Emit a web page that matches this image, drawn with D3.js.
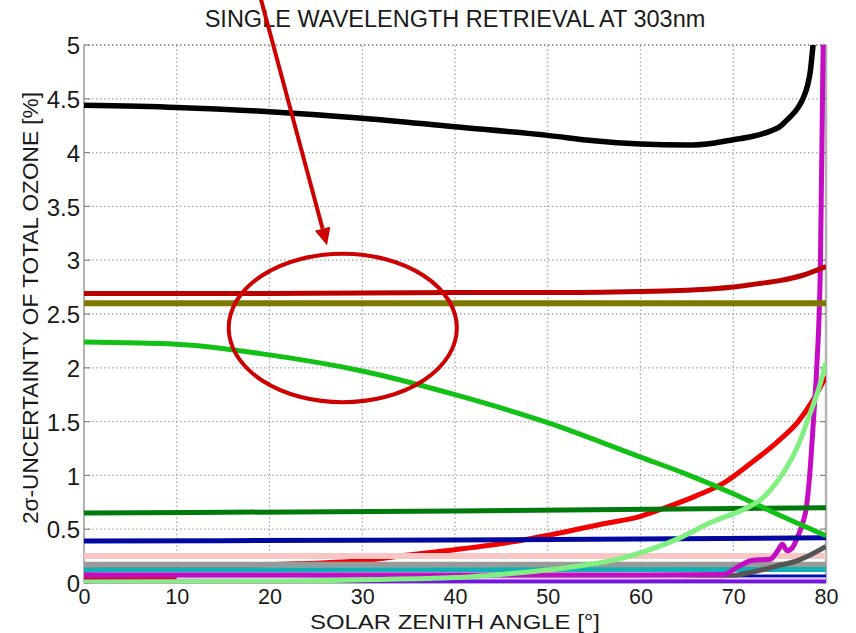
<!DOCTYPE html>
<html>
<head>
<meta charset="utf-8">
<script src="https://cdn.jsdelivr.net/npm/d3@7"></script>
<style>
  html, body { margin: 0; padding: 0; background: #fff; }
  svg { display: block; }
  text { font-family: "Liberation Sans", Arial, sans-serif; fill: #1a1a1a; }
</style>
</head>
<body>
<svg id="chart" width="856" height="633"></svg>
<script>
// Axis ticks
const xTicks = [0, 10, 20, 30, 40, 50, 60, 70, 80];
const yTicks = [0, 0.5, 1, 1.5, 2, 2.5, 3, 3.5, 4, 4.5, 5];

// Uncertainty curves: solar zenith angle [deg] and 2-sigma uncertainty [%]
const blackSza = [0, 10, 20, 30, 40, 50, 55, 60, 65, 68, 70, 72, 74, 75, 76, 77, 77.5, 78, 78.3, 78.6, 78.8];
const blackVal = [4.44, 4.42, 4.38, 4.32, 4.24, 4.16, 4.11, 4.08, 4.07, 4.09, 4.12, 4.15, 4.2, 4.24, 4.32, 4.42, 4.5, 4.62, 4.75, 5.0, 5.2];

const darkRedSza = [0, 20, 40, 50, 60, 65, 70, 72.5, 75, 77.5, 80];
const darkRedVal = [2.69, 2.69, 2.7, 2.7, 2.71, 2.72, 2.75, 2.78, 2.81, 2.86, 2.94];

const oliveSza = [0, 80];
const oliveVal = [2.6, 2.6];

const greenSza = [0, 10, 20, 30, 40, 50, 60, 65, 70, 75, 80];
const greenVal = [2.24, 2.22, 2.12, 1.97, 1.75, 1.49, 1.17, 1.01, 0.83, 0.63, 0.44];

const darkGreenSza = [0, 40, 80];
const darkGreenVal = [0.65, 0.67, 0.7];

const redSza = [0, 10, 20, 30, 35, 40, 46, 51, 56, 60, 63, 66, 69, 72, 75, 77, 78.6, 80];
const redVal = [0.12, 0.14, 0.17, 0.21, 0.26, 0.31, 0.38, 0.46, 0.55, 0.62, 0.71, 0.81, 0.93, 1.12, 1.33, 1.5, 1.7, 1.92];

const lightGreenSza = [0, 20, 30, 40, 45, 50, 53.5, 57, 60.3, 64, 67.5, 71.5, 72.9, 74.8, 75.8, 77, 78.3, 79.2, 80];
const lightGreenVal = [0.01, 0.015, 0.03, 0.05, 0.08, 0.12, 0.16, 0.21, 0.29, 0.41, 0.56, 0.7, 0.77, 0.95, 1.08, 1.28, 1.58, 1.8, 2.05];

const navySza = [0, 40, 80];
const navyVal = [0.39, 0.4, 0.42];

const pinkSza = [0, 80];
const pinkVal = [0.25, 0.25];

const graySza = [0, 80];
const grayVal = [0.17, 0.17];

const cyanSza = [0, 80];
const cyanVal = [0.12, 0.125];

const blueLowSza = [0, 80];
const blueLowVal = [0.065, 0.065];

const magentaSza = [0, 20, 40, 60, 69, 70.5, 72, 74, 74.8, 75.3, 75.8, 76.3, 76.9, 77.5, 77.9, 78.2, 78.7, 79.0, 79.4, 79.7, 79.9];
const magentaVal = [0.075, 0.075, 0.075, 0.075, 0.08, 0.15, 0.21, 0.22, 0.3, 0.36, 0.3, 0.32, 0.42, 0.56, 0.71, 0.96, 1.58, 2.0, 2.98, 5.05, 6.0];

const crimsonSza = [0, 10];
const crimsonVal = [0.04, 0.04];

const lilacSza = [10, 80];
const lilacVal = [0.04, 0.04];

const purpleSza = [0, 80];
const purpleVal = [0.015, 0.015];

const darkGraySza = [60, 65, 68.6, 72, 74.8, 77, 78.3, 80];
const darkGrayVal = [0.01, 0.025, 0.05, 0.1, 0.16, 0.21, 0.26, 0.34];

// Highlight annotation, in data units
const ringCenter = [27.9, 2.37];
const ringRadii = [12.3, 0.69];
const arrowFrom = [19.0, 5.45];
const arrowTo = [26.2, 3.14];

// Drawing order: first listed is drawn underneath
const series = [
  { sza: redSza, val: redVal, color: "#f20000", width: 5 },
  { sza: pinkSza, val: pinkVal, color: "#f8c6c4", width: 6 },
  { sza: graySza, val: grayVal, color: "#9a9a9a", width: 6 },
  { sza: cyanSza, val: cyanVal, color: "#12b0b4", width: 5 },
  { sza: blueLowSza, val: blueLowVal, color: "#0010b0", width: 3 },
  { sza: darkGraySza, val: darkGrayVal, color: "#555555", width: 5 },
  { sza: magentaSza, val: magentaVal, color: "#c40cc4", width: 5 },
  { sza: crimsonSza, val: crimsonVal, color: "#e0003c", width: 3 },
  { sza: lilacSza, val: lilacVal, color: "#f2cdf2", width: 2 },
  { sza: purpleSza, val: purpleVal, color: "#7a10f0", width: 4 },
  { sza: navySza, val: navyVal, color: "#0008a0", width: 5 },
  { sza: darkGreenSza, val: darkGreenVal, color: "#017a0c", width: 5 },
  { sza: greenSza, val: greenVal, color: "#12c016", width: 5 },
  { sza: lightGreenSza, val: lightGreenVal, color: "#80f080", width: 5 },
  { sza: oliveSza, val: oliveVal, color: "#7d7800", width: 6 },
  { sza: darkRedSza, val: darkRedVal, color: "#bb0000", width: 5 },
  { sza: blackSza, val: blackVal, color: "#000000", width: 5.5 }
];

const W = 856, H = 633;
const margin = { top: 45, right: 30, bottom: 50, left: 84 };
const svg = d3.select("#chart");
const FONT = '"Liberation Sans", Arial, sans-serif';

const x = d3.scaleLinear().domain([0, 80]).range([margin.left, W - margin.right]);
const y = d3.scaleLinear().domain([0, 5]).range([H - margin.bottom, margin.top]);

// Clip region for the plot area
svg.append("defs").append("clipPath").attr("id", "plotClip")
  .append("rect")
  .attr("x", x(0)).attr("y", y(5))
  .attr("width", x(80) - x(0)).attr("height", y(0) - y(5));

// Dotted grid
const grid = svg.append("g").attr("class", "grid");
grid.selectAll("line.gx").data(xTicks.slice(1, -1)).join("line")
  .attr("x1", d => x(d)).attr("x2", d => x(d))
  .attr("y1", y(0)).attr("y2", y(5))
  .attr("stroke", "#a8a8a8").attr("stroke-width", 1.3)
  .attr("stroke-dasharray", "1.5,2.5");
grid.selectAll("line.gy").data(yTicks.slice(1)).join("line")
  .attr("x1", x(0)).attr("x2", x(80))
  .attr("y1", d => y(d)).attr("y2", d => y(d))
  .attr("stroke", d => d === 5 ? "#777" : "#a8a8a8")
  .attr("stroke-width", d => d === 5 ? 1.6 : 1.3)
  .attr("stroke-dasharray", "1.5,2.5");

// Frame: left axis, bottom axis and right edge
svg.append("line")
  .attr("x1", x(0)).attr("x2", x(0)).attr("y1", y(0)).attr("y2", y(5))
  .attr("stroke", "#9a9a9a").attr("stroke-width", 1.5);
svg.append("line")
  .attr("x1", x(80)).attr("x2", x(80)).attr("y1", y(0)).attr("y2", y(5))
  .attr("stroke", "#b4b4b4").attr("stroke-width", 2.5);
svg.append("line")
  .attr("x1", x(0)).attr("x2", x(80)).attr("y1", y(0)).attr("y2", y(0))
  .attr("stroke", "#9a9a9a").attr("stroke-width", 1.5);

// Inward ticks on both vertical edges
const tk = svg.append("g");
tk.selectAll("line.tl").data(yTicks).join("line")
  .attr("x1", x(0)).attr("x2", x(0) + 6).attr("y1", d => y(d)).attr("y2", d => y(d))
  .attr("stroke", "#888").attr("stroke-width", 1.2);
tk.selectAll("line.tr").data(yTicks).join("line")
  .attr("x1", x(80)).attr("x2", x(80) - 6).attr("y1", d => y(d)).attr("y2", d => y(d))
  .attr("stroke", "#888").attr("stroke-width", 1.2);

// Curves
const line = d3.line().x(d => x(d[0])).y(d => y(d[1])).curve(d3.curveMonotoneX);
const plot = svg.append("g").attr("clip-path", "url(#plotClip)");
plot.selectAll("path.series").data(series).join("path")
  .attr("class", "series")
  .attr("d", s => line(s.sza.map((v, i) => [v, s.val[i]])))
  .attr("fill", "none")
  .attr("stroke", s => s.color)
  .attr("stroke-width", s => s.width)
  .attr("stroke-linejoin", "round");

// Tick labels
const yAxis = d3.axisLeft(y).tickValues(yTicks).tickSize(0).tickPadding(4)
  .tickFormat(d3.format("~g"));
const gy = svg.append("g").attr("transform", `translate(${x(0)},0)`).call(yAxis);
gy.select(".domain").remove();
gy.selectAll("text").attr("font-size", 24).attr("fill", "#1a1a1a")
  .style("font-family", FONT)
  .attr("dy", "0.36em");

const xAxis = d3.axisBottom(x).tickValues(xTicks).tickSize(0).tickPadding(0);
const gx = svg.append("g").attr("transform", `translate(0,${y(0)})`).call(xAxis);
gx.select(".domain").remove();
gx.selectAll("text").attr("font-size", 21.5).attr("fill", "#1a1a1a")
  .style("font-family", FONT)
  .attr("y", 0).attr("dy", 21);

// Titles
svg.append("text")
  .attr("x", (x(0) + x(80)) / 2).attr("y", 27)
  .attr("text-anchor", "middle").attr("font-size", 23.5)
  .text("SINGLE WAVELENGTH RETRIEVAL AT 303nm");

svg.append("text")
  .attr("x", (x(0) + x(80)) / 2).attr("y", 628.5)
  .attr("text-anchor", "middle").attr("font-size", 21)
  .attr("textLength", 290).attr("lengthAdjust", "spacingAndGlyphs")
  .text("SOLAR ZENITH ANGLE [°]");

svg.append("text")
  .attr("transform", `translate(38,308) rotate(-90)`)
  .attr("text-anchor", "middle").attr("font-size", 21.5)
  .attr("textLength", 432).attr("lengthAdjust", "spacingAndGlyphs")
  .text("2σ-UNCERTAINTY OF TOTAL OZONE [%]");

// Red highlight ring and pointer arrow
const note = svg.append("g");
note.append("ellipse")
  .attr("cx", x(ringCenter[0])).attr("cy", y(ringCenter[1]))
  .attr("rx", x(ringRadii[0]) - x(0)).attr("ry", y(0) - y(ringRadii[1]))
  .attr("fill", "none").attr("stroke", "#cc0000").attr("stroke-width", 4);

const ax0 = x(arrowFrom[0]), ay0 = y(arrowFrom[1]);
const ax1 = x(arrowTo[0]), ay1 = y(arrowTo[1]);
const ang = Math.atan2(ay1 - ay0, ax1 - ax0);
const headLen = 17, headHalf = 8;
const bx = ax1 - headLen * Math.cos(ang), by = ay1 - headLen * Math.sin(ang);
note.append("line")
  .attr("x1", ax0).attr("y1", ay0).attr("x2", bx).attr("y2", by)
  .attr("stroke", "#cc0000").attr("stroke-width", 4);
note.append("path")
  .attr("d", d3.line()([
    [ax1, ay1],
    [bx + headHalf * Math.sin(ang), by - headHalf * Math.cos(ang)],
    [bx - headHalf * Math.sin(ang), by + headHalf * Math.cos(ang)]
  ]) + "Z")
  .attr("fill", "#cc0000");
</script>
</body>
</html>
